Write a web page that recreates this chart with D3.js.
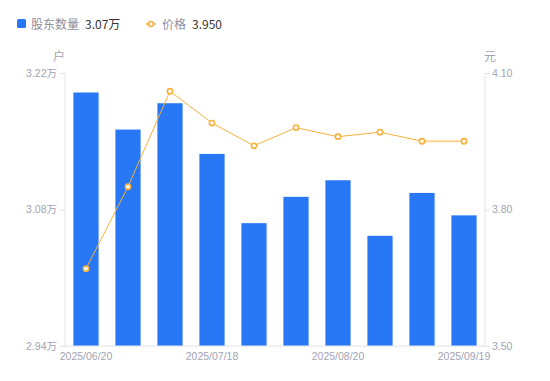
<!DOCTYPE html>
<html><head><meta charset="utf-8">
<script src="https://cdn.jsdelivr.net/npm/d3@7"></script>
<style>
html,body{margin:0;padding:0;background:#fff;}
svg{display:block;font-family:"Noto Sans CJK SC","Noto Sans",sans-serif;}
</style></head>
<body><svg id="c" width="550" height="381"></svg>
<script>
const dates = ["2025/06/20","2025/06/30","2025/07/10","2025/07/18","2025/07/31","2025/08/08","2025/08/20","2025/08/29","2025/09/10","2025/09/19"];
const holders = [3.200, 3.162, 3.189, 3.137, 3.066, 3.093, 3.110, 3.053, 3.097, 3.074];
const prices = [3.67, 3.85, 4.06, 3.99, 3.94, 3.98, 3.96, 3.97, 3.95, 3.95];
const leftTicks = [2.94, 3.08, 3.22];
const rightTicks = [3.50, 3.80, 4.10];
const shownDates = ["2025/06/20","2025/07/18","2025/08/20","2025/09/19"];

const svg = d3.select("#c");
const L = 65, R = 485, T = 73, B = 346;
const x = d3.scaleBand().domain(dates).range([L, R]).paddingInner(0.4).paddingOuter(0.2);
const yL = d3.scaleLinear().domain([2.94, 3.22]).range([B, T]);
const yR = d3.scaleLinear().domain([3.50, 4.10]).range([B, T]);
const axisCol = "#e3e4e8", labCol = "#a1a3b3";

// bars
svg.append("g").selectAll("rect").data(holders).join("rect")
  .attr("x", (d,i) => x(dates[i]))
  .attr("width", x.bandwidth())
  .attr("y", d => yL(d))
  .attr("height", d => B - yL(d))
  .attr("fill", "#2878f5");

// axes
const gL = svg.append("g").attr("transform", `translate(${L},0)`)
  .call(d3.axisLeft(yL).tickValues(leftTicks).tickSize(5).tickFormat(d => d.toFixed(2) + "万"));
const gR = svg.append("g").attr("transform", `translate(${R},0)`)
  .call(d3.axisRight(yR).tickValues(rightTicks).tickSize(5).tickFormat(d => d.toFixed(2)));
const gB = svg.append("g").attr("transform", `translate(0,${B})`)
  .call(d3.axisBottom(x).tickValues(shownDates).tickSize(0).tickPadding(7));
[gL, gR, gB].forEach(g => {
  g.selectAll("path.domain").attr("stroke", axisCol);
  g.selectAll(".tick line").attr("stroke", axisCol);
  g.selectAll("text").attr("fill", labCol).attr("font-size", 10.5)
    .attr("font-family", '"Liberation Sans","Noto Sans CJK SC",sans-serif');
});
gL.select("path.domain").attr("d", `M0,${B}V${T}`);
gR.select("path.domain").attr("d", `M0,${B}V${T}`);
gL.selectAll(".tick text").attr("x", -8);
gR.selectAll(".tick text").attr("x", 7);
gB.select("path.domain").attr("d", `M${L},0H${R}`);
gB.selectAll(".tick text").attr("dy", "0.71em").attr("y", 7);

// axis units
svg.append("text").attr("x", 59).attr("y", 61).attr("text-anchor", "middle")
  .attr("fill", labCol).attr("font-size", 12).text("户");
svg.append("text").attr("x", 490).attr("y", 61).attr("text-anchor", "middle")
  .attr("fill", labCol).attr("font-size", 12).text("元");

// line
const lc = "#f8b13b";
const pts = prices.map((p,i) => [x(dates[i]) + x.bandwidth()/2, yR(p)]);
svg.append("path").attr("d", d3.line()(pts.slice(0, pts.length-1)))
  .attr("fill", "none").attr("stroke", lc).attr("stroke-width", 1);
svg.append("path").attr("d", d3.line()(pts.slice(pts.length-2)))
  .attr("fill", "none").attr("stroke", "#fcd38d").attr("stroke-width", 2);
svg.append("g").selectAll("circle").data(pts).join("circle")
  .attr("cx", d => d[0]).attr("cy", d => d[1]).attr("r", 2.6)
  .attr("fill", "#fff").attr("stroke", lc).attr("stroke-width", 1.6);

// legend
const lg = svg.append("g");
lg.append("rect").attr("x", 17).attr("y", 19).attr("width", 9).attr("height", 9).attr("rx", 1.5).attr("fill", "#2878f5");
lg.append("text").attr("x", 31).attr("y", 28.5).attr("font-size", 12).attr("fill", "#8d8f9c").text("股东数量");
lg.append("text").attr("x", 85).attr("y", 28.5).attr("font-size", 12).attr("fill", "#333").text(holders[holders.length-1].toFixed(2) + "万");
lg.append("line").attr("x1", 146).attr("x2", 156).attr("y1", 24).attr("y2", 24).attr("stroke", lc).attr("stroke-width", 1.5);
lg.append("circle").attr("cx", 151).attr("cy", 24).attr("r", 2.5).attr("fill", "#fff").attr("stroke", lc).attr("stroke-width", 1.6);
lg.append("text").attr("x", 162).attr("y", 28.5).attr("font-size", 12).attr("fill", "#8d8f9c").text("价格");
lg.append("text").attr("x", 192).attr("y", 28.5).attr("font-size", 12).attr("fill", "#333").text(prices[prices.length-1].toFixed(3));
</script></body></html>
